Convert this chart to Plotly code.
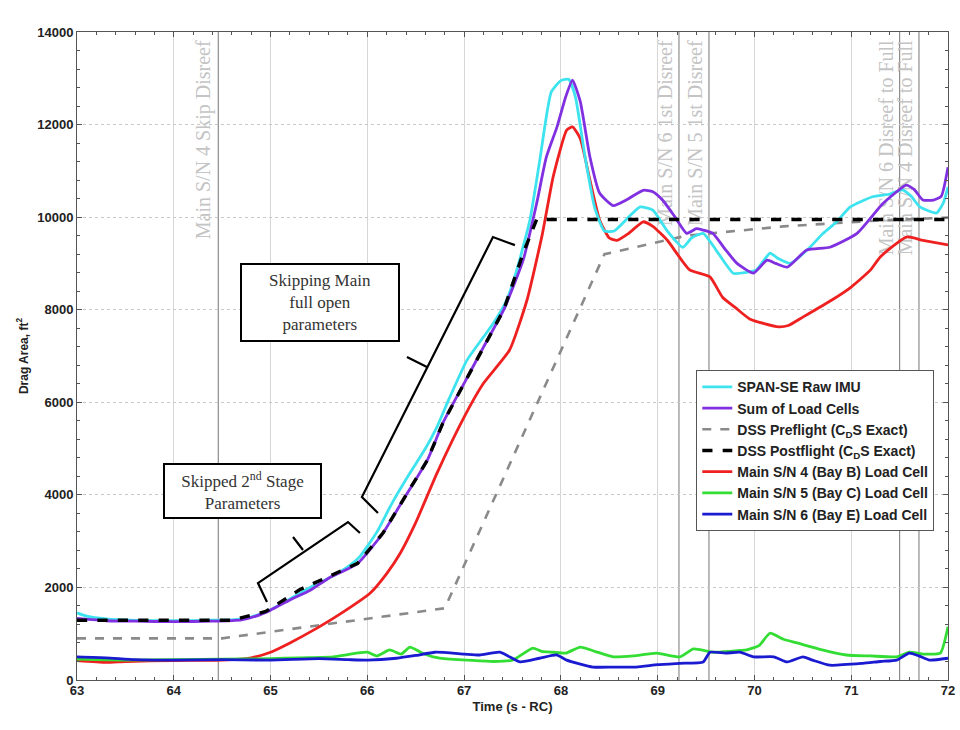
import plotly.graph_objects as go

# ---------------- data ----------------
imu_t = [63.0, 63.1, 63.3, 63.6, 64.0, 64.3, 64.6, 64.8, 65.0, 65.2, 65.4, 65.6, 65.8, 65.92, 66.1, 66.25,
         66.44, 66.6, 66.72, 66.85, 67.03, 67.2, 67.3, 67.44, 67.55, 67.68, 67.78, 67.9, 68.0, 68.08, 68.15,
         68.25, 68.35, 68.45, 68.55, 68.7, 68.82, 68.95, 69.1, 69.26, 69.35, 69.47, 69.6, 69.78, 69.9, 70.02,
         70.16, 70.25, 70.37, 70.55, 70.71, 70.85, 70.99, 71.22, 71.4, 71.53, 71.62, 71.71, 71.88, 71.95, 72.0]
imu_v = [1450, 1380, 1320, 1290, 1280, 1290, 1300, 1360, 1520, 1750, 1990, 2200, 2450, 2660, 3200, 3800,
         4470, 5000, 5470, 6100, 6910, 7410, 7700, 8210, 8900, 9940, 11200, 12700, 12950, 12980, 12600,
         11300, 10200, 9700, 9700, 10000, 10220, 10150, 9700, 9350, 9550, 9650, 9300, 8790, 8800, 8860,
         9220, 9100, 9000, 9300, 9650, 9900, 10220, 10440, 10500, 10590, 10450, 10220, 10090, 10300, 10650]

sum_t = [63.0, 63.3, 63.6, 64.0, 64.4, 64.7, 64.85, 65.0, 65.2, 65.41, 65.6, 65.9, 66.16, 66.37, 66.62, 66.78,
         67.0, 67.2, 67.41, 67.61, 67.75, 67.85, 67.96, 68.05, 68.12, 68.2, 68.3, 68.4, 68.54, 68.7, 68.85,
         68.95, 69.05, 69.18, 69.3, 69.4, 69.47, 69.57, 69.7, 69.82, 69.99, 70.13, 70.22, 70.34, 70.54, 70.78,
         71.06, 71.33, 71.57, 71.65, 71.74, 71.85, 71.93, 72.0]
sum_v = [1330, 1280, 1270, 1260, 1270, 1300, 1380, 1510, 1730, 1940, 2200, 2520, 3170, 3890, 4750, 5550,
         6410, 7190, 8000, 9070, 10300, 11300, 11950, 12600, 12960, 12500, 11300, 10520, 10250, 10400, 10580,
         10550, 10370, 10000, 9650, 9750, 9720, 9650, 9300, 9000, 8790, 9070, 9000, 8920, 9290, 9350,
         9650, 10300, 10690, 10600, 10370, 10370, 10450, 11080]

pre_t = [63.0, 64.5, 66.8, 68.45, 69.3, 70.3, 71.3, 72.0]
pre_v = [900, 900, 1550, 9200, 9600, 9800, 9930, 9990]

post_t = [63.0, 64.6, 64.95, 65.3, 65.9, 66.16, 66.37, 66.62, 66.78, 67.0, 67.2, 67.41, 67.61, 67.75, 72.0]
post_v = [1290, 1290, 1480, 1950, 2520, 3170, 3890, 4750, 5550, 6410, 7190, 8000, 9220, 9950, 9950]

sn4_t = [63.0, 63.3, 63.5, 64.0, 64.5, 64.8, 65.0, 65.2, 65.48, 65.7, 66.03, 66.2, 66.34, 66.5, 66.72, 67.0,
         67.2, 67.47, 67.65, 67.81, 67.92, 68.06, 68.12, 68.2, 68.3, 68.4, 68.5, 68.58, 68.7, 68.85, 68.95,
         69.1, 69.33, 69.54, 69.67, 69.8, 69.95, 70.1, 70.25, 70.35, 70.5, 70.8, 71.0, 71.2, 71.3, 71.57,
         71.74, 72.0]
sn4_v = [420, 380, 400, 420, 430, 480, 600, 800, 1120, 1400, 1880, 2300, 2740, 3400, 4470, 5680,
         6410, 7130, 8210, 9650, 10870, 11880, 11950, 11700, 10800, 9940, 9550, 9500, 9650, 9900, 9800,
         9500, 8860, 8710, 8270, 8050, 7800, 7700, 7630, 7660, 7840, 8210, 8490, 8860, 9140, 9570,
         9500, 9400]

sn5_t = [63.0, 63.5, 64.0, 64.5, 65.0, 65.3, 65.65, 65.8, 66.0, 66.1, 66.23, 66.35, 66.44, 66.55, 66.68,
         66.85, 67.03, 67.3, 67.5, 67.71, 67.8, 67.92, 68.05, 68.2, 68.35, 68.54, 68.75, 68.99, 69.23, 69.37,
         69.57, 69.75, 69.92, 70.05, 70.16, 70.3, 70.44, 70.7, 70.95, 71.2, 71.47, 71.6, 71.75, 71.92, 72.0]
sn5_v = [450, 430, 440, 450, 460, 480, 500, 550, 600, 520, 650, 560, 710, 600, 500,
         450, 430, 400, 430, 690, 620, 600, 580, 710, 620, 500, 520, 580, 500, 670,
         600, 620, 650, 750, 1010, 880, 800, 650, 540, 520, 500, 600, 560, 580, 1150]

sn6_t = [63.0, 63.3, 63.6, 64.0, 64.5, 65.0, 65.5, 65.8, 66.0, 66.3, 66.5, 66.7, 67.0, 67.16, 67.37, 67.58,
         67.78, 67.96, 68.06, 68.33, 68.55, 68.78, 69.0, 69.23, 69.47, 69.54, 69.7, 69.85, 69.99, 70.2, 70.34,
         70.5, 70.6, 70.78, 71.12, 71.3, 71.47, 71.6, 71.7, 71.81, 72.0]
sn6_v = [500, 480, 440, 430, 440, 430, 460, 440, 430, 470, 530, 600, 560, 540, 600, 390,
         470, 540, 430, 280, 280, 280, 330, 360, 390, 600, 580, 600, 500, 500, 390,
         500, 430, 320, 360, 400, 430, 580, 520, 430, 470]

series_names = ["SPAN-SE Raw IMU", "Sum of Load Cells",
                "DSS Preflight (C<sub>D</sub>S Exact)", "DSS Postflight (C<sub>D</sub>S Exact)",
                "Main S/N 4 (Bay B) Load Cell", "Main S/N 5 (Bay C) Load Cell",
                "Main S/N 6 (Bay E) Load Cell"]

event_t = [64.46, 69.22, 69.53, 71.5, 71.7]
event_labels = ["Main S/N 4 Skip Disreef", "Main S/N 6 1st Disreef", "Main S/N 5 1st Disreef",
                "Main S/N 6 Disreef to Full", "Main S/N 4 Disreef to Full"]
label_top = 13820   # where the rotated event texts end

# callout boxes (data coords of centre)
box_text = ["Skipping Main<br>full open<br>parameters", "Skipped 2<sup>nd</sup> Stage<br>Parameters"]
box_t = [65.515, 64.71]
box_v = [8154, 4093]

# brackets: tip, corner, far corner, far tip, notch base, notch tip
brk_lower_t = [64.963, 64.870, 65.800, 65.924, 65.335, 65.232]
brk_lower_v = [1685, 2095, 3413, 3175, 2808, 3089]
brk_upper_t = [66.110, 65.944, 67.298, 67.525, 66.616, 66.409]
brk_upper_v = [3607, 3953, 9569, 9396, 6761, 6977]

# ---------------- figure ----------------
fig = go.Figure()

def add(t, v, name, color, width, dash="solid", rank=1, smooth=True):
    line = dict(color=color, width=width, dash=dash)
    if smooth:
        line.update(shape="spline", smoothing=0.5)
    fig.add_trace(go.Scatter(x=t, y=v, mode="lines", name=name, legendrank=rank, line=line))

add(pre_t, pre_v, series_names[2], "#8a8a8a", 2.6, "dash", 3, smooth=False)
add(sn4_t, sn4_v, series_names[4], "#ee2020", 2.8, rank=5)
add(sn5_t, sn5_v, series_names[5], "#33dd33", 2.8, rank=6)
add(sn6_t, sn6_v, series_names[6], "#1a1ad0", 2.8, rank=7)
add(imu_t, imu_v, series_names[0], "#3de3ee", 2.8, rank=1)
add(sum_t, sum_v, series_names[1], "#8030e0", 2.8, rank=2)
add(post_t, post_v, series_names[3], "#000000", 3.4, "dash", 4, smooth=False)

shapes = []
for t, lab in zip(event_t, event_labels):
    shapes.append(dict(type="line", xref="x", yref="y", x0=t, x1=t, y0=0, y1=14000, layer="below",
                       line=dict(color="#8c8c8c", width=1.2)))
    shapes.append(dict(type="line", xref="x", yref="y", x0=t, x1=t, y0=0, y1=label_top, layer="below",
                       line=dict(color="rgba(0,0,0,0)", width=1),
                       label=dict(text=lab, textposition="end", xanchor="right", padding=5,
                                  font=dict(family="Liberation Serif", size=20, color="#c4c4c4"))))

def bracket(bt, bv):
    p = (f"M{bt[0]},{bv[0]} L{bt[1]},{bv[1]} L{bt[2]},{bv[2]} L{bt[3]},{bv[3]} "
         f"M{bt[4]},{bv[4]} L{bt[5]},{bv[5]}")
    return dict(type="path", xref="x", yref="y", path=p, line=dict(color="black", width=2.2))

shapes.append(bracket(brk_lower_t, brk_lower_v))
shapes.append(bracket(brk_upper_t, brk_upper_v))

annotations = []
box_sizes = [(154, 73), (153, 50)]
for txt, t, v, (w, h) in zip(box_text, box_t, box_v, box_sizes):
    annotations.append(dict(x=t, y=v, xref="x", yref="y", text=txt, showarrow=False,
                            width=w, height=h, align="center", valign="middle",
                            bgcolor="white", bordercolor="black", borderwidth=2, borderpad=1,
                            font=dict(family="Liberation Serif", size=17, color="#333333")))

fig.update_layout(
    width=960, height=730,
    margin=dict(l=77, r=12, t=32, b=50, autoexpand=False),
    paper_bgcolor="white", plot_bgcolor="white",
    font=dict(family="Liberation Sans", size=13, color="#222222"),
    shapes=shapes, annotations=annotations,
    legend=dict(x=0.711, y=0.478, xanchor="left", yanchor="top",
                bgcolor="white", bordercolor="#555555", borderwidth=1,
                font=dict(family="Liberation Sans", size=14, color="#222222", weight="bold"),
                tracegroupgap=0),
    showlegend=True,
)

fig.update_xaxes(range=[63, 72], dtick=1, tick0=63, showgrid=True, gridcolor="#d6d6d6", gridwidth=1,
                 zeroline=False, showline=True, linecolor="#555555", linewidth=1, mirror="allticks",
                 ticks="inside", ticklen=5, tickcolor="#555555", automargin=False,
                 ticklabelstandoff=-2,
                 minor=dict(dtick=0.2, ticks="inside", ticklen=3, tickcolor="#555555", showgrid=False),
                 tickfont=dict(size=13, weight="bold", color="#222222"),
                 title=dict(text="<b>Time (s - RC)</b>", font=dict(size=13), standoff=5))
fig.update_yaxes(range=[0, 14000], dtick=2000, tickformat="d", showgrid=True, gridcolor="#c8c8c8",
                 griddash="dot", gridwidth=1, zeroline=False, showline=True, linecolor="#555555",
                 linewidth=1, mirror="allticks", ticks="inside", ticklen=5, tickcolor="#555555",
                 automargin=False,
                 minor=dict(dtick=400, ticks="inside", ticklen=3, tickcolor="#555555", showgrid=False),
                 tickfont=dict(size=13, weight="bold", color="#222222"),
                 title=dict(text="<b>Drag Area, ft<sup>2</sup></b>", font=dict(size=12), standoff=6))

fig.write_html("out.html", config={"displayModeBar": False},
               post_script="document.body.style.margin='0';document.body.style.overflow='hidden';")
